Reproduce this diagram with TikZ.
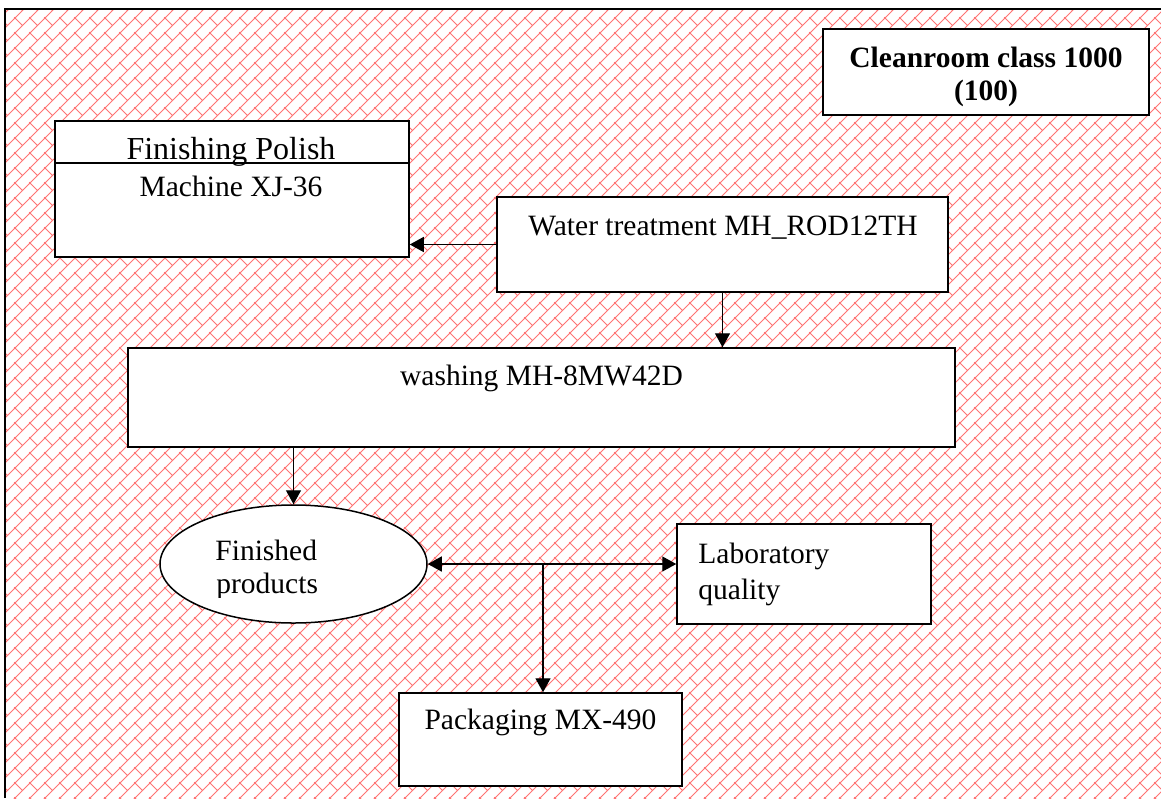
\documentclass[tikz,border=0pt]{standalone}
\usepackage{fontspec}
\setmainfont{Liberation Serif}
\usetikzlibrary{arrows.meta,patterns,shapes.geometric}

% diagonal brick hatching: rising rails with staggered short cross-bars
\pgfdeclarepatternformonly{diagbrick}{\pgfqpoint{-1pt}{-1pt}}{\pgfqpoint{8.5pt}{8.5pt}}{\pgfqpoint{7.5pt}{7.5pt}}{%
  \pgfsetlinewidth{0.4pt}%
  \pgfpathmoveto{\pgfqpoint{-0.4pt}{-0.4pt}}%
  \pgfpathlineto{\pgfqpoint{7.9pt}{7.9pt}}%
  \pgfpathmoveto{\pgfqpoint{3.75pt}{3.75pt}}%
  \pgfpathlineto{\pgfqpoint{-0.4pt}{7.9pt}}%
  \pgfusepath{stroke}}

\tikzset{
  procbox/.style={draw, line width=0.75pt, fill=white, inner sep=0pt},
  ovalbox/.style={ellipse, draw, line width=0.75pt, fill=white, inner sep=0pt},
  lbl/.style={inner sep=0pt, font=\fontsize{14.75}{17}\selectfont},
  flow/.style={line width=0.7pt, -{Triangle[length=7pt,width=7.5pt]}},
  biflow/.style={line width=0.7pt, {Triangle[length=7pt,width=7.5pt]}-{Triangle[length=7pt,width=7.5pt]}},
}

\begin{document}
\begin{tikzpicture}[x=0.5pt,y=-0.5pt]
\useasboundingbox (0,0) rectangle (1161,798);
\fill[white] (0,0) rectangle (1161,798);

% hatched cleanroom area and its frame
\fill[pattern=diagbrick, pattern color=red!55] (5,9) rectangle (1161,798);
\draw[line width=1pt] (5,798) -- (5,9) -- (1161,9);

% boxes
\node[procbox, minimum width=163pt, minimum height=43pt] (cr) at (986,72) {};
\node[procbox, minimum width=177pt, minimum height=68pt] (fp) at (232,189) {};
\draw[line width=0.6pt] (fp.west |- 0,163) -- (fp.east |- 0,163);
\node[procbox, minimum width=225.5pt, minimum height=47.5pt] (water) at (722.5,244.5) {};
\node[procbox, minimum width=413.5pt, minimum height=49.5pt] (wash) at (541.5,397.5) {};
\node[ovalbox, minimum width=133.5pt, minimum height=59pt] (fin) at (293.5,564) {};
\node[procbox, minimum width=127pt, minimum height=50pt] (lab) at (804,574) {};
\node[procbox, minimum width=141.5pt, minimum height=46.5pt] (pack) at (540.5,739.5) {};

% texts
\node[lbl, anchor=base, font=\fontsize{14.75}{17}\selectfont\bfseries] (cr1) at (986,67) {Cleanroom class 1000};
\node[lbl, anchor=base, font=\fontsize{14.75}{17}\selectfont\bfseries] (cr2) at (986,100) {(100)};
\node[lbl, anchor=base, font=\fontsize{16}{19}\selectfont] (fp1) at (231,159) {Finishing Polish};
\node[lbl, anchor=base] (fp2) at (231,196) {Machine XJ-36};
\node[lbl, anchor=base west] (water1) at (528,235) {Water treatment MH\_ROD12TH};
\node[lbl, anchor=base] (wash1) at (541.5,385) {washing MH-8MW42D};
\begin{scope}
  \clip (150,500) rectangle (430,597);
  \node[lbl, anchor=base west] (fin1) at (215,560) {Finished};
  \node[lbl, anchor=base west] (fin2) at (216,593) {products};
\end{scope}
\node[lbl, anchor=base west] (lab1) at (698,563) {Laboratory};
\node[lbl, anchor=base west] (lab2) at (698,599) {quality};
\node[lbl, anchor=base] (pack1) at (540.5,729) {Packaging MX-490};

% connectors
\draw[flow] (water.west) -- (water.west -| fp.east);
\draw[flow] (water.south) -- (water.south |- wash.north);
\draw[flow] (wash.south -| fin.north) -- (fin.north);
\draw[biflow] (fin.east) -- (fin.east -| lab.west);
\coordinate (jn) at (543,564);
\draw[flow] (jn) -- (jn |- pack.north);
\end{tikzpicture}
\end{document}
